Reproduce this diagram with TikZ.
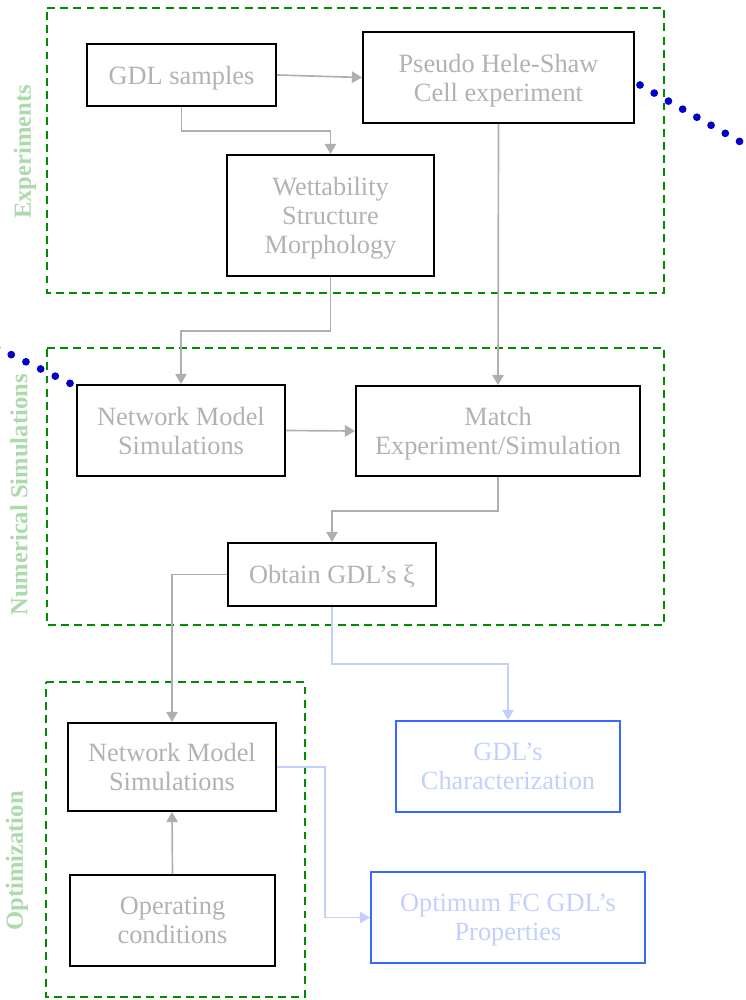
\documentclass[tikz,border=0pt]{standalone}
\usepackage{fontspec}
\setmainfont{Liberation Serif}
\usetikzlibrary{arrows.meta}
\definecolor{boxtext}{RGB}{178,178,178}
\definecolor{flowgray}{RGB}{175,175,175}
\definecolor{grpgreen}{RGB}{0,140,0}
\definecolor{grplabel}{RGB}{172,218,172}
\definecolor{resblue}{RGB}{55,105,255}
\definecolor{restext}{RGB}{195,208,255}
\definecolor{dotblue}{RGB}{0,0,200}

\begin{document}
\begin{tikzpicture}[x=0.02cm, y=-0.02cm, >={Triangle[length=5.8pt, width=6.5pt]},
    box/.style={draw=black, line width=1.1pt, text=boxtext, align=center, inner sep=0pt,
        text depth=0pt, font=\fontsize{15}{16.5}\selectfont},
    resbox/.style={box, draw=resblue, text=restext},
    flow/.style={->, flowgray, line width=0.95pt},
    resflow/.style={->, restext, line width=0.95pt},
    group/.style={grpgreen, line width=1.1pt, dash pattern=on 4.5pt off 3pt},
    grouplabel/.style={rotate=90, text=grplabel, font=\fontsize{14}{16}\selectfont\bfseries},
    zoomline/.style={dotblue, line width=4.4pt, line cap=round, dash pattern=on 0pt off 9.3pt}]
    \clip (0, 0) rectangle (746, 1000);

    % 分组框
    \draw[group] (47, 8) -- (664, 8) -- (664, 293) -- (47, 293) -- cycle;
    \draw[group] (47, 348) -- (664, 348) -- (664, 625) -- (47, 625) -- cycle;
    \draw[group] (46, 682) -- (305, 682) -- (305, 997) -- (46, 997) -- cycle;
    \node[grouplabel] (lblexp) at (25, 152) {Experiments};
    \node[grouplabel] (lblnum) at (19, 495) {Numerical Simulations};
    \node[grouplabel] (lblopt) at (17, 861) {Optimization};

    % 实验
    \node[box, minimum width=3.78cm, minimum height=1.24cm] (samples) at (181.5, 75) {GDL samples};
    \node[box, minimum width=5.42cm, minimum height=1.82cm] (hele) at (498.5, 77.5)
        {Pseudo Hele-Shaw\\Cell experiment};
    \node[box, minimum width=4.14cm, minimum height=2.42cm] (props) at (330.5, 215.5)
        {Wettability\\Structure\\Morphology};

    % 数值模拟
    \node[box, minimum width=4.16cm, minimum height=1.82cm] (netsim) at (181, 430.5)
        {Network Model\\Simulations};
    \node[box, minimum width=5.68cm, minimum height=1.80cm] (match) at (498, 431)
        {Match\\Experiment/Simulation};
    \node[box, minimum width=4.16cm, minimum height=1.26cm] (obtain) at (332, 574.5)
        {Obtain GDL’s ξ};

    % 优化
    \node[box, minimum width=4.16cm, minimum height=1.76cm] (optsim) at (172, 767)
        {Network Model\\Simulations};
    \node[box, minimum width=4.10cm, minimum height=1.82cm] (opcond) at (172.5, 920.5)
        {Operating\\conditions};

    % 结果
    \node[resbox, minimum width=4.48cm, minimum height=1.82cm] (charac) at (508, 766.5)
        {GDL’s\\Characterization};
    \node[resbox, minimum width=5.48cm, minimum height=1.82cm] (optimum) at (508, 917.5)
        {Optimum FC GDL’s\\Properties};

    % 连线
    \draw[flow] (samples.east) -- (hele.west);
    \draw[flow] (samples.south) -- ++(0, 24) -| (props.north);
    \draw[flow] (hele.south) -- (match.north);
    \draw[flow] (props.south) -- ++(0, 54) -| (netsim.north);
    \draw[flow] (netsim.east) -- (match.west);
    \draw[flow] (match.south) -- ++(0, 34) -| (obtain.north);
    \draw[flow] (obtain.west) -| (optsim.north);
    \draw[flow] (opcond.north) -- (optsim.south);
    \draw[resflow] (obtain.south) -- ++(0, 57) -| (charac.north);
    \draw[resflow] (optsim.east) -- ++(48, 0) |- (optimum.west);

    % 放大线
    \draw[zoomline] (640, 85) -- (790, 170);
    \draw[zoomline] (70, 383.3) -- (-30, 334.5);
\end{tikzpicture}
\end{document}
